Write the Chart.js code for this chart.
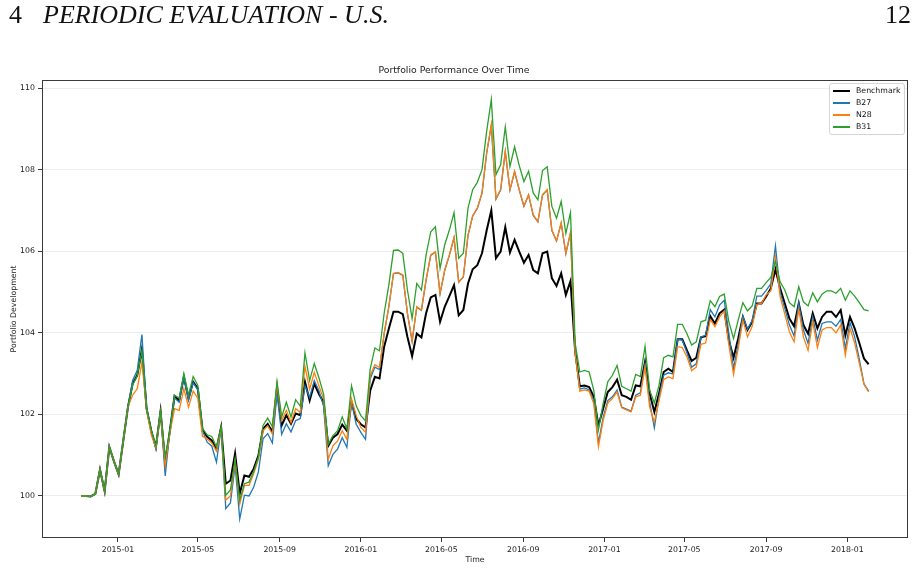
<!DOCTYPE html>
<html>
<head>
<meta charset="utf-8">
<title>Portfolio Performance Over Time</title>
<script src="https://cdn.jsdelivr.net/npm/chart.js@4.4.1/dist/chart.umd.min.js"></script>
<style>
  html, body { margin: 0; padding: 0; background: #fff; }
  #page { position: relative; width: 918px; height: 569px; overflow: hidden; }
  #chart { position: absolute; left: 0; top: 0; }
  .hdr { position: absolute; top: 2px; line-height: 26px; font-family: "Liberation Serif", serif; font-size: 26px; color: #111; white-space: nowrap; }
  #legend { position: absolute; left: 829px; top: 83px; width: 74px; height: 50px; border: 1px solid #d4d4d4; border-radius: 3px; background: rgba(255,255,255,0.8); font-family: "DejaVu Sans", sans-serif; font-size: 7.8px; color: #111; }
  #legend .row { position: absolute; left: 0; height: 12px; width: 74px; }
  #legend .swatch { position: absolute; left: 3px; top: 5px; width: 17px; height: 2px; }
  #legend .lbl { position: absolute; left: 26px; top: 1px; line-height: 10px; }
</style>
</head>
<body>
<div id="page">
  <canvas id="chart" width="918" height="569"></canvas>
  <div class="hdr" style="left:9px">4<i style="margin-left:21px">PERIODIC EVALUATION - U.S.</i></div>
  <div class="hdr" style="right:7px">12</div>
  <div id="legend"></div>
</div>
<script>
// weekly observations, first one on 2014-11-07
const startDate = Date.UTC(2014, 10, 7);
const weekCount = 170;

const seriesNames = ['Benchmark', 'B27', 'N28', 'B31'];
const seriesColors = ['#000000', '#1f77b4', '#ff7f0e', '#2ca02c'];

const benchmark = [
  100.0, 100.0, 99.99, 100.05, 100.65, 100.12, 101.2, 100.85, 100.53, 101.36,
  102.18, 102.75, 102.96, 103.6, 102.14, 101.6, 101.2, 102.08, 100.8, 101.6,
  102.45, 102.34, 102.92, 102.39, 102.8, 102.63, 101.63, 101.45, 101.36, 101.15,
  101.69, 100.3, 100.38, 101.04, 100.06, 100.5, 100.47, 100.67, 100.99, 101.65,
  101.77, 101.57, 102.65, 101.73, 101.98, 101.77, 102.02, 101.98, 102.8, 102.34,
  102.75, 102.5, 102.3, 101.23, 101.43, 101.52, 101.75, 101.6, 102.3, 101.89,
  101.76, 101.68, 102.58, 102.92, 102.88, 103.66, 104.1, 104.52, 104.52, 104.46,
  103.9, 103.43, 103.98, 103.89, 104.48, 104.87, 104.93, 104.27, 104.64, 104.9,
  105.17, 104.43, 104.56, 105.21, 105.56, 105.66, 105.95, 106.51, 107.0, 105.83,
  105.99, 106.59, 105.97, 106.28, 105.99, 105.72, 105.91, 105.54, 105.46, 105.95,
  105.99, 105.34, 105.15, 105.46, 104.93, 105.27, 103.55, 102.69, 102.71, 102.67,
  102.43, 101.73, 102.14, 102.55, 102.67, 102.85, 102.47, 102.43, 102.36, 102.71,
  102.69, 103.29, 102.51, 102.06, 102.51, 103.04, 103.12, 103.04, 103.84, 103.84,
  103.57, 103.31, 103.39, 103.89, 103.92, 104.41, 104.23, 104.48, 104.57, 103.82,
  103.39, 103.86, 104.39, 104.07, 104.27, 104.72, 104.72, 104.89, 105.09, 105.56,
  105.09, 104.72, 104.35, 104.16, 104.72, 104.19, 103.98, 104.48, 104.11, 104.39,
  104.52, 104.52, 104.39, 104.56, 103.94, 104.39, 104.11, 103.75, 103.37, 103.23
];

const b27 = [
  100.0, 100.0, 99.99, 100.05, 100.65, 100.12, 101.2, 100.85, 100.53, 101.36,
  102.18, 102.83, 103.08, 103.96, 102.14, 101.6, 101.15, 102.08, 100.49, 101.6,
  102.4, 102.3, 102.9, 102.35, 102.78, 102.6, 101.6, 101.32, 101.22, 100.83,
  101.65, 99.69, 99.83, 100.75, 99.44, 100.02, 100.0, 100.22, 100.59, 101.4,
  101.53, 101.3, 102.5, 101.51, 101.77, 101.57, 101.85, 101.9, 102.7, 102.42,
  102.83, 102.58, 102.2, 100.74, 101.02, 101.15, 101.43, 101.19, 102.3, 101.76,
  101.56, 101.39, 102.87, 103.16, 103.1, 103.98, 104.64, 105.45, 105.47, 105.41,
  104.47, 103.79, 104.63, 104.55, 105.29, 105.9, 105.98, 104.96, 105.53, 105.9,
  106.33, 105.24, 105.37, 106.39, 106.86, 107.05, 107.42, 108.4, 109.09, 107.28,
  107.5, 108.44, 107.5, 107.95, 107.5, 107.1, 107.38, 106.88, 106.72, 107.38,
  107.5, 106.51, 106.25, 106.69, 105.94, 106.45, 103.5, 102.62, 102.65, 102.6,
  102.35, 101.3, 101.92, 102.34, 102.43, 102.6, 102.18, 102.13, 102.08, 102.47,
  102.53, 103.24, 102.3, 101.67, 102.42, 102.96, 103.02, 102.99, 103.84, 103.82,
  103.51, 103.16, 103.24, 103.9, 103.94, 104.57, 104.39, 104.68, 104.8, 103.98,
  103.12, 103.73, 104.41, 104.09, 104.3, 104.9, 104.9, 105.04, 105.2, 106.13,
  105.0, 104.6, 104.19, 103.92, 104.72, 104.07, 103.74, 104.39, 103.82, 104.23,
  104.27, 104.27, 104.16, 104.33, 103.62, 104.25, 103.9, 103.35, 102.75, 102.57
];

const n28 = [
  100.0, 100.0, 99.99, 100.05, 100.65, 100.12, 101.2, 100.85, 100.53, 101.36,
  102.18, 102.47, 102.63, 103.28, 102.12, 101.5, 101.18, 102.05, 100.75, 101.55,
  102.14, 102.1, 102.63, 102.18, 102.57, 102.39, 101.46, 101.4, 101.3, 101.1,
  101.66, 99.9, 100.0, 100.85, 99.8, 100.26, 100.26, 100.55, 100.9, 101.6,
  101.72, 101.52, 102.75, 101.85, 102.1, 101.8, 102.14, 102.05, 103.18, 102.62,
  103.03, 102.7, 102.38, 100.9, 101.23, 101.35, 101.6, 101.39, 102.38, 101.97,
  101.68, 101.56, 102.95, 103.22, 103.15, 103.98, 104.64, 105.46, 105.48, 105.42,
  104.48, 103.8, 104.64, 104.56, 105.3, 105.91, 105.99, 104.97, 105.54, 105.91,
  106.34, 105.25, 105.38, 106.4, 106.87, 107.06, 107.43, 108.41, 109.1, 107.29,
  107.51, 108.45, 107.51, 107.96, 107.51, 107.11, 107.39, 106.89, 106.73, 107.39,
  107.51, 106.52, 106.26, 106.7, 105.95, 106.46, 103.5, 102.57, 102.6, 102.57,
  102.26, 101.21, 101.85, 102.28, 102.39, 102.55, 102.16, 102.11, 102.06, 102.43,
  102.47, 103.16, 102.18, 101.81, 102.34, 102.85, 102.92, 102.88, 103.66, 103.64,
  103.41, 103.07, 103.16, 103.72, 103.75, 104.33, 104.15, 104.39, 104.54, 103.7,
  102.98, 103.61, 104.31, 103.9, 104.16, 104.7, 104.72, 104.93, 105.03, 105.87,
  104.89, 104.46, 104.02, 103.78, 104.57, 103.9, 103.57, 104.27, 103.64, 104.07,
  104.13, 104.13, 104.0, 104.19, 103.45, 104.11, 103.75, 103.25, 102.74, 102.55
];

const b31 = [
  100.0, 100.0, 99.99, 100.05, 100.65, 100.12, 101.2, 100.85, 100.53, 101.36,
  102.18, 102.72, 102.95, 103.57, 102.14, 101.62, 101.22, 102.08, 100.96, 101.6,
  102.47, 102.4, 103.0, 102.47, 102.93, 102.71, 101.66, 101.5, 101.46, 101.2,
  101.69, 100.02, 100.15, 100.9, 99.9, 100.3, 100.34, 100.6, 100.95, 101.73,
  101.91, 101.7, 102.8, 101.94, 102.3, 101.94, 102.36, 102.2, 103.51, 102.83,
  103.25, 102.9, 102.5, 101.27, 101.48, 101.6, 101.94, 101.64, 102.7, 102.21,
  101.97, 101.84, 103.11, 103.63, 103.56, 104.48, 105.17, 106.02, 106.03, 105.95,
  105.05, 104.35, 105.21, 105.05, 105.91, 106.48, 106.6, 105.58, 106.16, 106.52,
  106.95, 105.83, 105.95, 107.06, 107.51, 107.69, 108.0, 108.94, 109.72, 107.88,
  108.12, 109.05, 108.08, 108.56, 108.1, 107.71, 107.96, 107.43, 107.26, 107.98,
  108.07, 107.1, 106.81, 107.22, 106.44, 106.95, 103.75, 103.04, 103.08, 103.04,
  102.59, 101.62, 102.26, 102.8, 102.96, 103.2, 102.69, 102.63, 102.57, 102.98,
  102.93, 103.67, 102.59, 102.28, 102.71, 103.39, 103.45, 103.41, 104.21, 104.21,
  103.98, 103.7, 103.78, 104.27, 104.31, 104.79, 104.64, 104.89, 104.95, 104.27,
  103.86, 104.31, 104.74, 104.54, 104.66, 105.09, 105.09, 105.23, 105.36, 105.75,
  105.25, 105.05, 104.74, 104.64, 105.13, 104.76, 104.66, 104.98, 104.76, 104.95,
  105.03, 105.03, 104.97, 105.09, 104.8, 105.03, 104.9, 104.74, 104.57, 104.54
];

const yTicks = [100, 102, 104, 106, 108, 110];
const tickMonths = ['2015-01', '2015-05', '2015-09', '2016-01', '2016-05', '2016-09', '2017-01', '2017-05', '2017-09', '2018-01'];

const DAY = 86400000;
const toDay = (s) => Date.UTC(+s.slice(0, 4), +s.slice(5, 7) - 1, 1) / DAY;

const days = [];
for (let i = 0; i < weekCount; i++) {
    days.push(startDate / DAY + i * 7);
}
const span = days[days.length - 1] - days[0];
const xMin = days[0] - span * 0.05;
const xMax = days[days.length - 1] + span * 0.05;

const allSeries = [benchmark, b27, n28, b31];
const widths = [2, 1.3, 1.3, 1.3];

const datasets = allSeries.map((vals, k) => ({
    label: seriesNames[k],
    data: vals.map((v, i) => ({ x: days[i], y: v })),
    borderColor: seriesColors[k],
    backgroundColor: seriesColors[k],
    borderWidth: widths[k],
    pointRadius: 0,
    tension: 0,
    fill: false,
    order: 4 - k   // last series on top, like the original
}));

const tickFont = { family: 'DejaVu Sans', size: 7.8 };
const textColor = '#1a1a1a';

// box around the plot area
const frame = {
    id: 'frame',
    afterDraw(chart) {
        const { ctx, chartArea: a } = chart;
        ctx.save();
        ctx.strokeStyle = '#3a3a3a';
        ctx.lineWidth = 1;
        ctx.strokeRect(Math.round(a.left) + 0.5, Math.round(a.top) + 0.5,
            Math.round(a.right - a.left) - 1, Math.round(a.bottom - a.top) - 1);
        ctx.restore();
    }
};

const chart = new Chart(document.getElementById('chart'), {
    type: 'line',
    data: { datasets },
    options: {
        responsive: false,
        animation: false,
        layout: { padding: { left: 0, right: 10, top: 0, bottom: 0 } },
        plugins: {
            legend: { display: false },
            tooltip: { enabled: false },
            title: {
                display: true,
                text: 'Portfolio Performance Over Time',
                color: textColor,
                font: { family: 'DejaVu Sans', size: 9.3, weight: 'normal' },
                padding: { top: 65.4, bottom: 3.4 }
            }
        },
        scales: {
            x: {
                type: 'linear',
                min: xMin,
                max: xMax,
                afterFit: (s) => { s.height = 31; },
                afterBuildTicks: (s) => { s.ticks = tickMonths.map(m => ({ value: toDay(m) })); },
                ticks: {
                    autoSkip: false,
                    maxRotation: 0,
                    padding: 3,
                    color: textColor,
                    font: tickFont,
                    callback: (v) => {
                        const d = new Date(v * DAY);
                        return d.getUTCFullYear() + '-' + String(d.getUTCMonth() + 1).padStart(2, '0');
                    }
                },
                grid: { drawOnChartArea: false, tickLength: 4, tickColor: '#3a3a3a' },
                border: { display: false },
                title: { display: true, text: 'Time', color: textColor, font: tickFont, padding: { top: 0, bottom: 4.5 } }
            },
            y: {
                min: 98.97,
                max: 110.2,
                afterFit: (s) => { s.width = 42; },
                afterBuildTicks: (s) => { s.ticks = yTicks.map(v => ({ value: v })); },
                ticks: { color: textColor, font: tickFont, padding: 3 },
                grid: { color: 'rgba(0,0,0,0.07)', tickColor: '#3a3a3a', tickLength: 4 },
                border: { display: false },
                title: { display: true, text: 'Portfolio Development', color: textColor, font: tickFont, padding: { top: 9.5, bottom: 0 } }
            }
        }
    },
    plugins: [frame]
});

// legend box in the upper right corner, drawn as html
const legend = document.getElementById('legend');
seriesNames.forEach((name, k) => {
    const row = document.createElement('div');
    row.className = 'row';
    row.style.top = (1 + k * 12) + 'px';
    const sw = document.createElement('div');
    sw.className = 'swatch';
    sw.style.background = seriesColors[k];
    const lbl = document.createElement('div');
    lbl.className = 'lbl';
    lbl.textContent = name;
    row.appendChild(sw);
    row.appendChild(lbl);
    legend.appendChild(row);
});
</script>
</body>
</html>
